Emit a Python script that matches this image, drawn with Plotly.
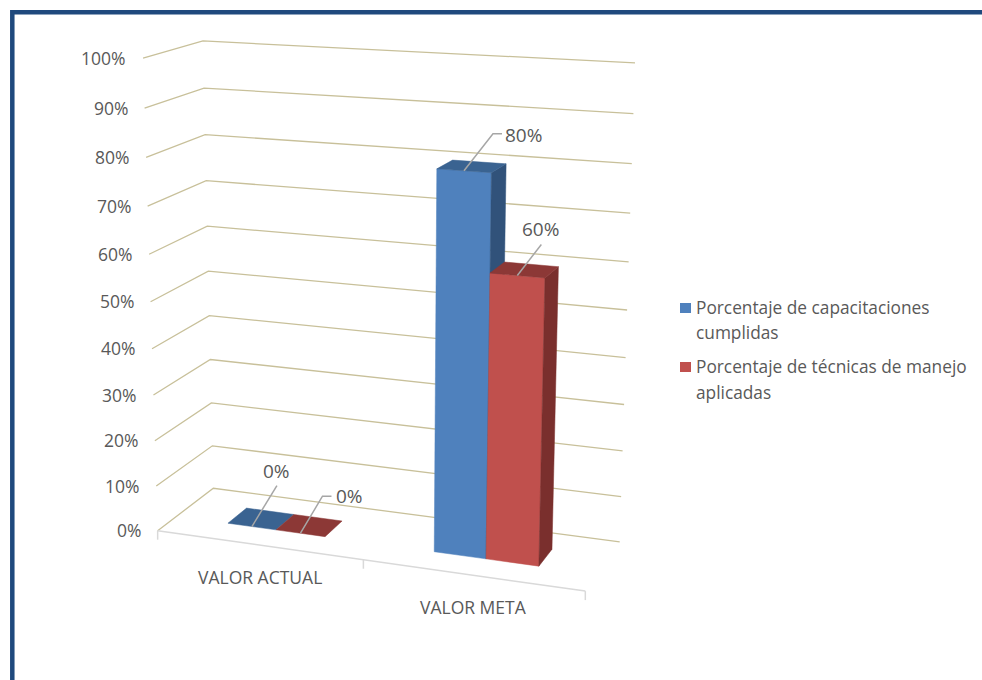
import numpy as np
import plotly.graph_objects as go

categories = ["VALOR ACTUAL", "VALOR META"]
series_names = ["Porcentaje de capacitaciones<br>cumplidas", "Porcentaje de técnicas de manejo<br>aplicadas"]
capacitaciones = [0, 80]
tecnicas = [0, 60]
y_ticks = [0, 10, 20, 30, 40, 50, 60, 70, 80, 90, 100]

FONT = "Open Sans"
TXT = "#595959"
GRID = "#C8C09A"
AXIS = "#D9D9D9"
LEAD = "#A6A6A6"
COLORS = [("#4F81BD", "#3A6391", "#31527A"), ("#C0504D", "#8C3836", "#7A2F2D")]

# Perspective camera of the 3D chart box, fitted to the box corners.
# box coords: x 0-1 across categories, y 0-1 of the value axis, z 0 (front) - 1 (back)
corners = [((0, 0, 0), (158, 530)), ((1, 0, 0), (585, 592)), ((0, 0, 1), (213, 489)),
           ((1, 0, 1), (620, 541)), ((0, 1, 0), (143, 58)), ((0, 1, 1), (203, 41)),
           ((1, 1, 1), (635, 63))]
A, b = [], []
for (X, Y, Z), (u, v) in corners:
    A.append([X, Y, Z, 1, 0, 0, 0, 0, -u * X, -u * Y, -u * Z]); b.append(u)
    A.append([0, 0, 0, 0, X, Y, Z, 1, -v * X, -v * Y, -v * Z]); b.append(v)
p = np.linalg.lstsq(np.array(A, float), np.array(b, float), rcond=None)[0]
P = np.append(p, 1).reshape(3, 4)


def proj(x, val, z):
    s = P @ np.array([x, val / 100.0, z, 1.0])
    return s[0] / s[2], s[1] / s[2]


def poly(pts):
    xs, ys = zip(*pts)
    return list(xs) + [xs[0]], list(ys) + [ys[0]]


fig = go.Figure()


def add_line(pts, color, width):
    xs, ys = zip(*pts)
    fig.add_trace(go.Scatter(x=xs, y=ys, mode="lines", line=dict(color=color, width=width),
                             showlegend=False, hoverinfo="skip"))


def add_face(pts, color):
    xs, ys = poly(pts)
    fig.add_trace(go.Scatter(x=xs, y=ys, mode="lines", fill="toself", fillcolor=color,
                             line=dict(color=color, width=0.5), showlegend=False, hoverinfo="skip"))


annotations = []


def label(x, y, text, size, xanchor="center"):
    annotations.append(dict(x=x, y=y, text=text, showarrow=False, xanchor=xanchor, yanchor="middle",
                            font=dict(family=FONT, size=size, color=TXT)))


# gridlines and value-axis labels
for t in y_ticks:
    add_line([proj(0, t, 0), proj(0, t, 1), proj(1, t, 1)], GRID, 1.3)
    fx, fy = proj(0, t, 0)
    label(fx - 15, fy - 0.5, f"{t}%", 17.5, "right")

# category axis
add_line([proj(0, 0, 0), proj(1, 0, 0)], AXIS, 1.5)
for x in (0, 0.5, 1):
    fx, fy = proj(x, 0, 0)
    add_line([(fx, fy), (fx, fy + 9)], AXIS, 1.5)
for i, c in enumerate(categories):
    fx, fy = proj((i + 0.5) / 2, 0, 0)
    label(fx + 1, fy + 32, c, 17.5)

# bars
WIDTH = 0.12
Z0, Z1 = 0.33, 0.68
all_series = [capacitaciones, tecnicas]
for ci in range(len(categories)):
    center = (ci + 0.5) / 2
    for si, vals in enumerate(all_series):
        v = vals[ci]
        x0 = center + (si - 1) * WIDTH
        x1 = x0 + WIDTH
        front, top, side = COLORS[si]
        if v > 0:
            add_face([proj(x0, 0, Z0), proj(x1, 0, Z0), proj(x1, v, Z0), proj(x0, v, Z0)], front)
            add_face([proj(x1, 0, Z0), proj(x1, 0, Z1), proj(x1, v, Z1), proj(x1, v, Z0)], side)
        add_face([proj(x0, v, Z0), proj(x1, v, Z0), proj(x1, v, Z1), proj(x0, v, Z1)], top)

# data labels with leader lines: (elbow dx, dy, has kink, label dx, dy)
LEADERS = {(0, 0): (25, -41, False, 25, -56), (0, 1): (22, -37, True, 49, -37),
           (1, 0): (29, -37, True, 60, -36), (1, 1): (24, -31, False, 23, -46)}
for ci in range(len(categories)):
    center = (ci + 0.5) / 2
    for si, vals in enumerate(all_series):
        v = vals[ci]
        sx, sy = proj(center + (si - 0.5) * WIDTH, v, Z0)
        dx, dy, kink, lx, ly = LEADERS[(ci, si)]
        pts = [(sx, sy), (sx + dx, sy + dy)]
        if kink:
            pts.append((sx + dx + 9, sy + dy))
        add_line(pts, LEAD, 1.5)
        label(sx + lx, sy + ly, f"{v}%", 19)

# legend
LEGEND_Y = [(308, 332), (367, 392)]
shapes = [dict(type="rect", xref="x", yref="y", x0=12.3, y0=12.3, x1=1100, y1=800,
               line=dict(color="#1F497D", width=4.5))]
for si, name in enumerate(series_names):
    first, second = name.split("<br>")
    y1, y2 = LEGEND_Y[si]
    shapes.append(dict(type="rect", xref="x", yref="y", x0=680, x1=691, y0=y1 - 5, y1=y1 + 5,
                       fillcolor=COLORS[si][0], line=dict(width=0)))
    label(694, y1 - 1, first, 17.3, "left")
    label(694, y2, second, 17.3, "left")

fig.update_layout(
    width=982, height=680, margin=dict(l=0, r=0, t=0, b=0),
    paper_bgcolor="white", plot_bgcolor="white", annotations=annotations, showlegend=False,
    xaxis=dict(range=[0, 982], visible=False, fixedrange=True),
    yaxis=dict(range=[680, 0], visible=False, fixedrange=True),
    shapes=shapes,
)
fig.write_html("out.html", config={"displayModeBar": False},
               post_script="document.body.style.margin='0';document.documentElement.style.overflow='hidden';")
